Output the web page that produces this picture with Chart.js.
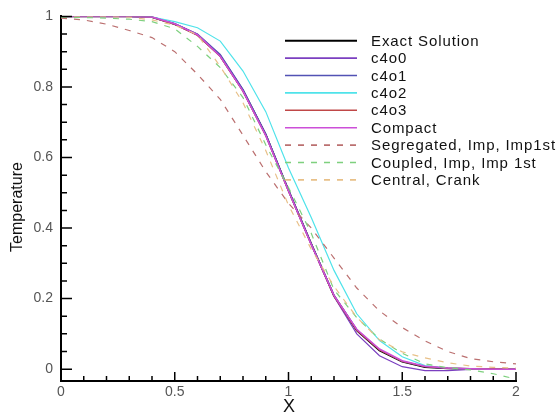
<!DOCTYPE html>
<html>
<head>
<meta charset="utf-8">
<script src="https://cdn.jsdelivr.net/npm/chart.js@4.4.1/dist/chart.umd.min.js"></script>
<style>
  html,body{margin:0;padding:0;background:#fff;}
  #wrap{width:558px;height:418px;}
</style>
</head>
<body>
<div id="wrap"><canvas id="chart" width="558" height="418"></canvas></div>
<script>
// x positions of the samples
const xs = [0,0.1,0.2,0.3,0.4,0.5,0.6,0.7,0.8,0.9,1.0,1.1,1.2,1.3,1.4,1.5,1.6,1.7,1.8,1.9,2.0];

// series values
const exact    = [1,1,1,1,0.998,0.978,0.948,0.888,0.79,0.665,0.507,0.355,0.208,0.11,0.053,0.021,0.006,0.002,0.001,0,0];
const c4o0     = [1,1,1,1,0.998,0.978,0.948,0.888,0.79,0.665,0.507,0.355,0.206,0.1,0.038,0.007,-0.004,-0.004,-0.001,0,0];
const c4o1     = [1,1,1,1,0.999,0.98,0.95,0.892,0.793,0.667,0.508,0.356,0.21,0.112,0.055,0.022,0.007,0.002,0.001,0,0];
const c4o2     = [1,1,1,1,0.998,0.985,0.968,0.93,0.845,0.73,0.57,0.43,0.28,0.157,0.081,0.035,0.01,0.003,0.001,0,0];
const c4o3     = [1,1,1,1,0.998,0.977,0.946,0.886,0.787,0.662,0.504,0.353,0.207,0.11,0.054,0.022,0.007,0.003,0.001,0.001,0];
const compact  = [1,1,1,1,0.998,0.979,0.948,0.887,0.788,0.662,0.505,0.353,0.209,0.113,0.057,0.024,0.008,0.003,0.001,0,0];
const segreg   = [0.995,0.99,0.978,0.96,0.94,0.9,0.836,0.765,0.663,0.56,0.47,0.4,0.315,0.23,0.165,0.118,0.08,0.05,0.03,0.021,0.015];
const coupled  = [0.998,0.997,0.995,0.992,0.985,0.965,0.915,0.855,0.77,0.636,0.515,0.385,0.225,0.146,0.085,0.045,0.015,0.004,-0.002,-0.013,-0.028];
const central  = [1,1,1,0.998,0.99,0.975,0.948,0.858,0.755,0.62,0.465,0.34,0.235,0.147,0.083,0.049,0.032,0.018,0.009,0.005,0.003];

const labels = ['Exact Solution','c4o0','c4o1','c4o2','c4o3','Compact','Segregated, Imp, Imp1st','Coupled, Imp, Imp 1st','Central, Crank'];

// tick labels
const xTicks = [0,0.5,1,1.5,2];
const yTicks = [0,0.2,0.4,0.6,0.8,1];
const xMinor = [0.1,0.2,0.3,0.4,0.6,0.7,0.8,0.9,1.1,1.2,1.3,1.4,1.6,1.7,1.8,1.9];
const yMinor = [0.05,0.1,0.15,0.25,0.3,0.35,0.45,0.5,0.55,0.65,0.7,0.75,0.85,0.9,0.95];

const FONT = '"Liberation Sans", Arial, sans-serif';

const styles = [
  {c:'#000000', w:1.8, d:[]},
  {c:'#7b3fc0', w:1.2, d:[]},
  {c:'#5252b4', w:1.2, d:[]},
  {c:'#4fe3ea', w:1.2, d:[]},
  {c:'#c04848', w:1.2, d:[]},
  {c:'#cc4fd8', w:1.5, d:[]},
  {c:'#bb7070', w:1.2, d:[6,7]},
  {c:'#7ed07e', w:1.2, d:[6,7]},
  {c:'#e8c088', w:1.2, d:[6,7]}
];
const series = [exact,c4o0,c4o1,c4o2,c4o3,compact,segreg,coupled,central];

const datasets = series.map((s,i)=>({
  label: labels[i],
  data: s.map((v,k)=>({x:xs[k], y:v})),
  borderColor: styles[i].c,
  borderWidth: styles[i].w,
  borderDash: styles[i].d,
  order: 10 - i,          // exact drawn first, the rest on top of it
  pointRadius: 0,
  tension: 0,
  fill: false
}));

// inward tick marks, legend and axis titles
const decor = {
  id:'decor',
  afterDraw(chart){
    const ctx = chart.ctx, xs_ = chart.scales.x, ys_ = chart.scales.y;
    const a = chart.chartArea;
    ctx.save();
    ctx.strokeStyle = '#000';
    ctx.lineWidth = 1.5;
    ctx.beginPath();
    xTicks.forEach(v=>{ const p = xs_.getPixelForValue(v); ctx.moveTo(p, a.bottom); ctx.lineTo(p, a.bottom-9); });
    xMinor.forEach(v=>{ const p = xs_.getPixelForValue(v); ctx.moveTo(p, a.bottom); ctx.lineTo(p, a.bottom-5); });
    yTicks.forEach(v=>{ const p = ys_.getPixelForValue(v); ctx.moveTo(a.left, p); ctx.lineTo(a.left+11, p); });
    yMinor.forEach(v=>{ const p = ys_.getPixelForValue(v); ctx.moveTo(a.left, p); ctx.lineTo(a.left+6, p); });
    ctx.stroke();

    // legend, in dataset order
    chart.data.datasets.forEach((ds,i)=>{
      const y = 40.7 + 17.4*i;
      ctx.beginPath();
      ctx.strokeStyle = ds.borderColor;
      ctx.lineWidth = i===0 ? 2 : 1.6;
      ctx.setLineDash(ds.borderDash);
      ctx.moveTo(285, y); ctx.lineTo(357, y);
      ctx.stroke();
      ctx.setLineDash([]);
      ctx.fillStyle = '#111';
      ctx.font = '15px ' + FONT;
      ctx.letterSpacing = '0.9px';
      ctx.textBaseline = 'middle';
      ctx.textAlign = 'left';
      ctx.fillText(ds.label, 371, y+1);
    });
    ctx.letterSpacing = '0px';

    // axis titles
    ctx.fillStyle = '#111';
    ctx.font = '18px ' + FONT;
    ctx.textAlign = 'center';
    ctx.textBaseline = 'middle';
    ctx.fillText('X', 289, 407);
    ctx.translate(18, 207);
    ctx.rotate(-Math.PI/2);
    ctx.font = '16px ' + FONT;
    ctx.fillText('Temperature', 0, 0);
    ctx.restore();
  }
};

new Chart(document.getElementById('chart'), {
  type:'line',
  data:{ datasets },
  plugins:[decor],
  options:{
    responsive:false,
    animation:false,
    layout:{ padding:{ left:0, top:12, right:42, bottom:0 } },
    plugins:{ legend:{display:false}, tooltip:{enabled:false} },
    scales:{
      x:{
        type:'linear', min:0, max:2,
        afterFit(s){ s.height = 37; },
        afterBuildTicks(s){ s.ticks = xTicks.map(v=>({value:v})); },
        grid:{ display:false, drawTicks:false },
        border:{ color:'#000', width:2 },
        ticks:{ padding:3, color:'#555', font:{ family:FONT, size:14 }, maxRotation:0, callback:v=>String(v) }
      },
      y:{
        type:'linear', min:-0.0336, max:1,
        afterFit(s){ s.width = 61; },
        afterBuildTicks(s){ s.ticks = yTicks.map(v=>({value:v})); },
        grid:{ display:false, drawTicks:false },
        border:{ color:'#000', width:2 },
        ticks:{ padding:8, color:'#555', font:{ family:FONT, size:14 }, callback:v=>String(v) }
      }
    }
  }
});
</script>
</body>
</html>
